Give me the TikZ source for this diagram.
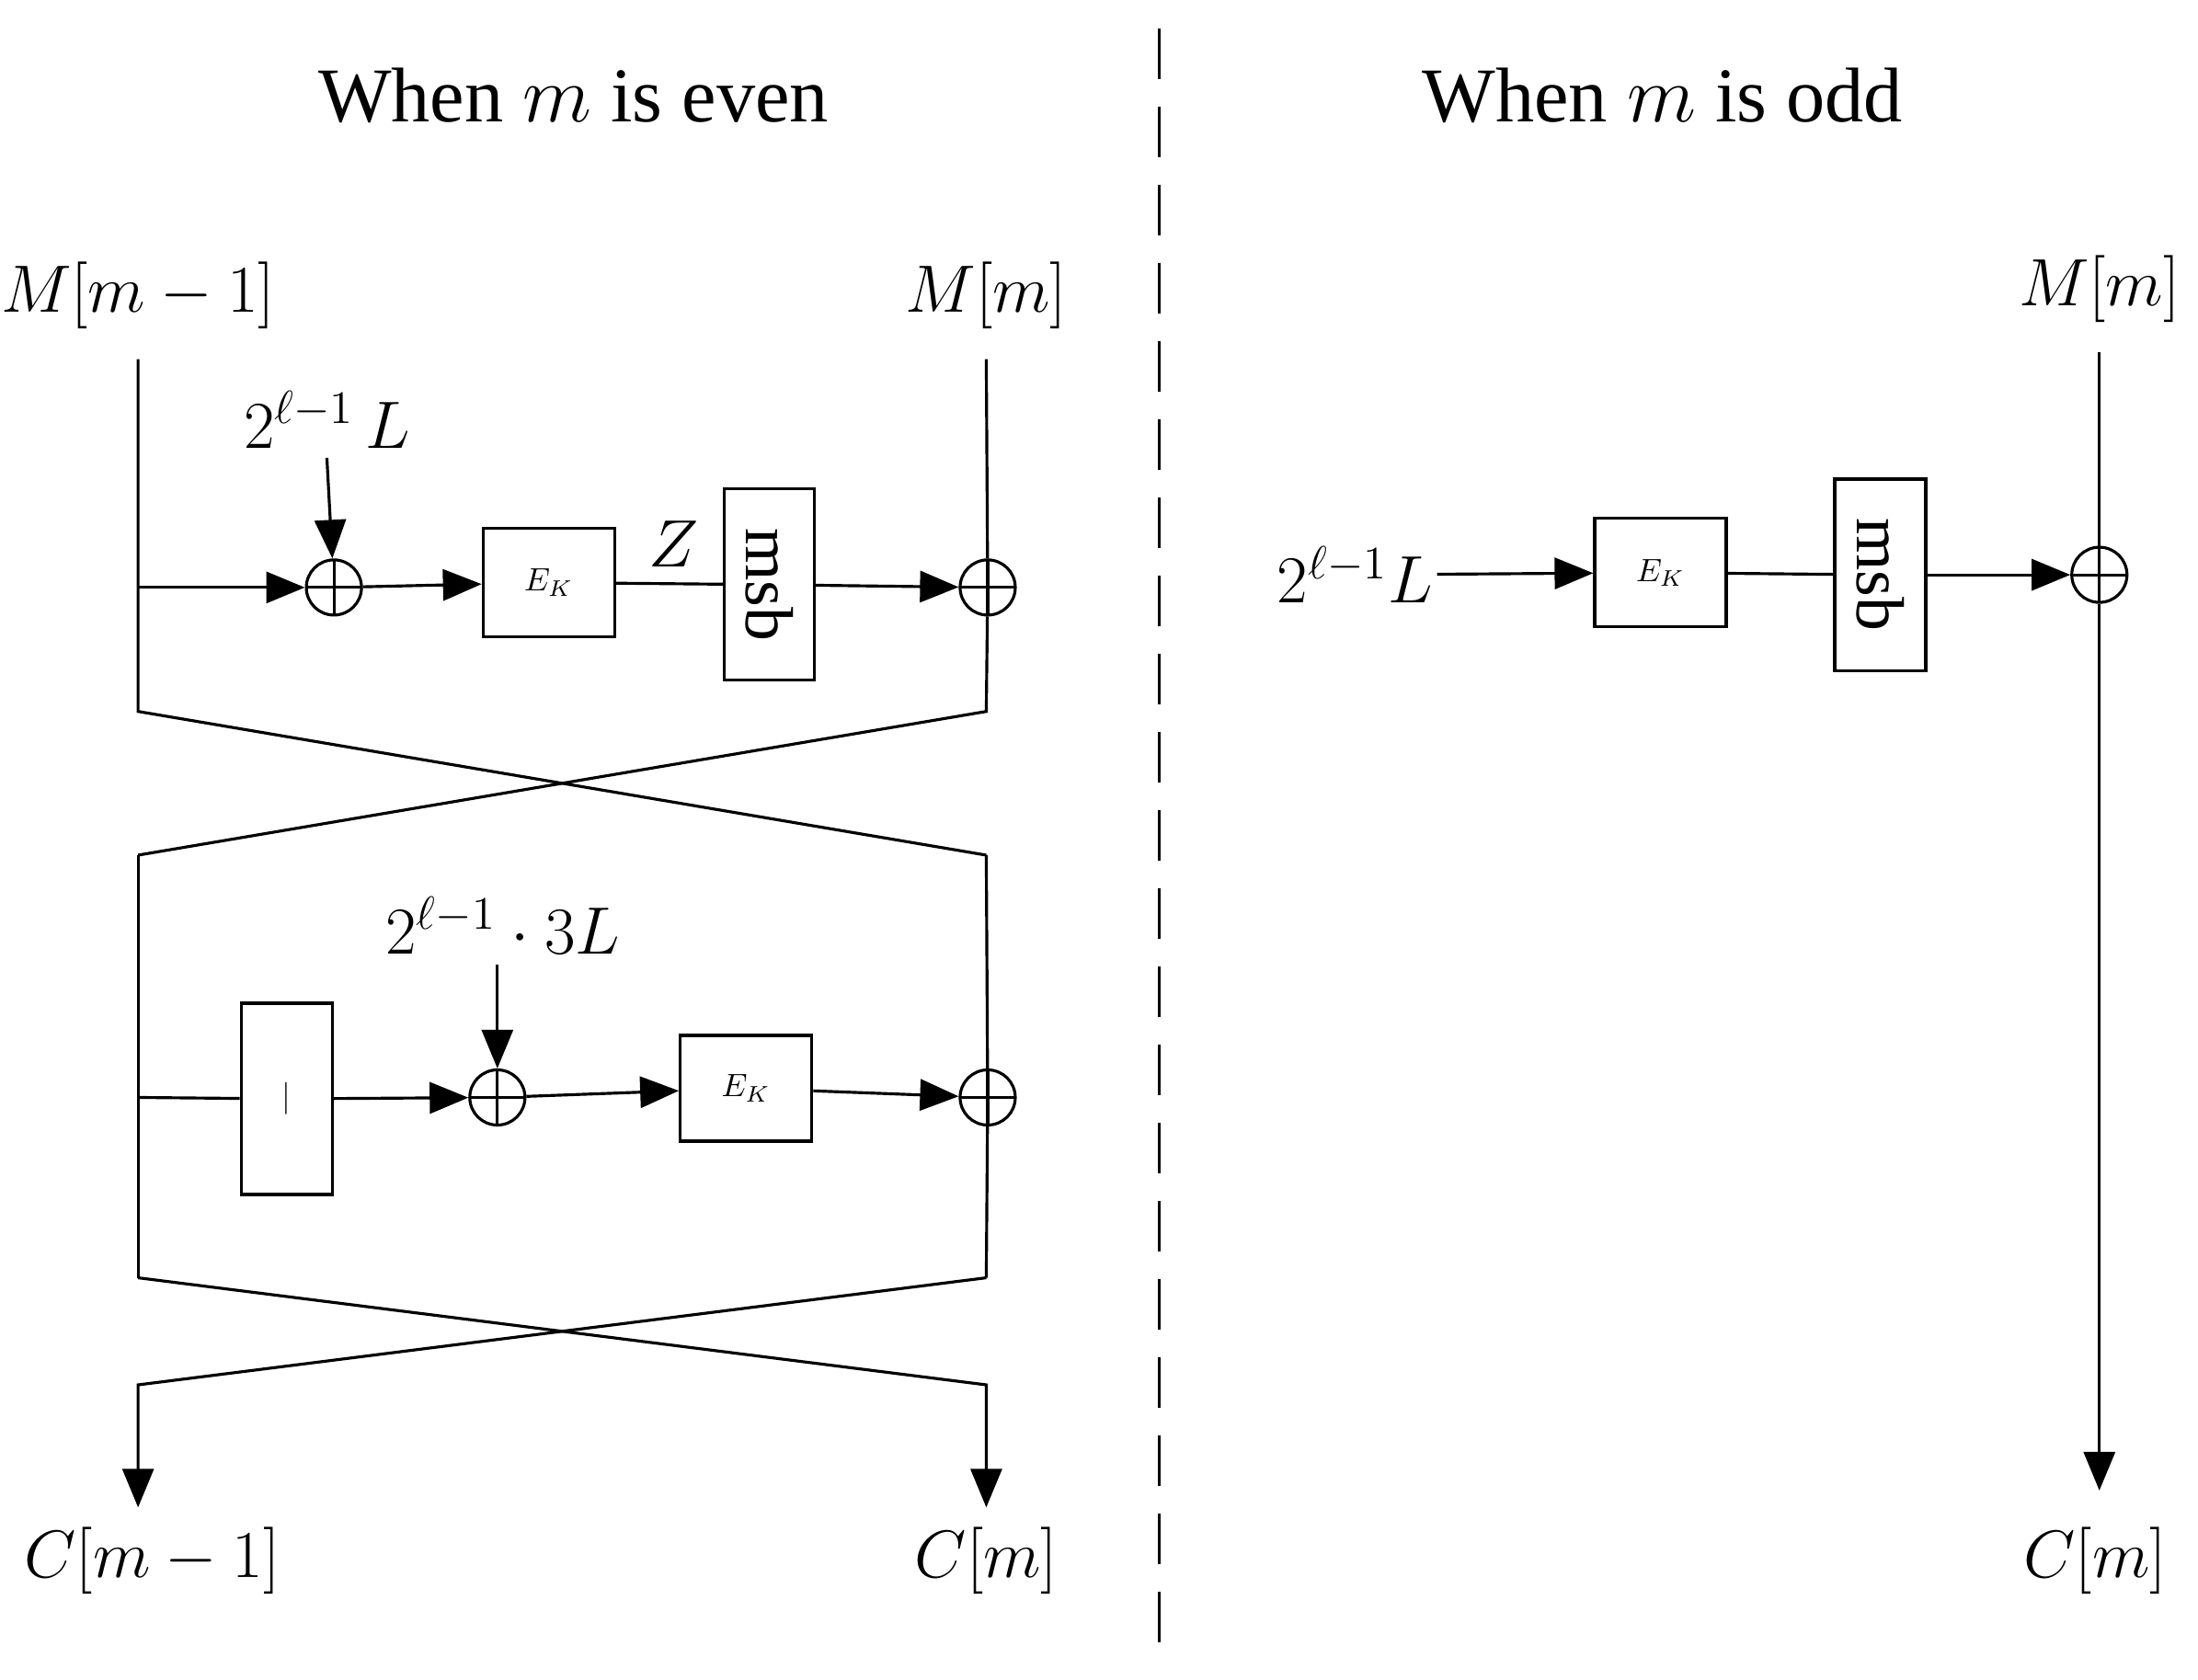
\documentclass[tikz,border=0pt]{standalone}
\usepackage{fontspec}
\setmainfont{Liberation Serif}
\usetikzlibrary{arrows.meta}
\begin{document}
\begin{tikzpicture}[x=0.01532cm,y=-0.01532cm,line width=0.9pt,
  arr/.style={-{Triangle[length=0.42cm,width=0.34cm]}},
  xo/.style={circle,draw,inner sep=0pt,minimum size=0.6cm,path picture={
    \draw (path picture bounding box.north)--(path picture bounding box.south)
          (path picture bounding box.west)--(path picture bounding box.east);}},
  bx/.style={draw,inner sep=0pt},
  lab/.style={font=\fontsize{21}{25}\selectfont,inner sep=1pt},
  ttl/.style={font=\fontsize{24}{28}\selectfont}]
\useasboundingbox (0,0) rectangle (1560,1192.5);
% titles and divider
\node[ttl] (t1) at (407,68) {When $m$ is even};
\node[ttl] (t2) at (1180,68) {When $m$ is odd};
\coordinate (d1) at (823,20); \coordinate (d2) at (823,1175);
\draw[dash pattern=on 0.55cm off 0.3cm] (d1)--(d2);
% left part
\node[lab] (Mm1) at (98,210) {$M[m-1]$};
\node[lab] (Mm) at (700,210) {$M[m]$};
\coordinate (la) at (98,255); \coordinate (ra) at (700,255);
\coordinate (l1) at (98,417);
\node[xo] (x1) at (237,417) {};
\node[lab] (L1) at (232,298) {$2^{\ell-1}\,L$};
\coordinate (L1a) at (232,325);
\node[bx,minimum width=1.43cm,minimum height=1.18cm] (E1) at (389.5,413.5) {$E_{K}$};
\node[lab] (Z) at (478,386) {$Z$};
\node[bx,minimum width=0.98cm,minimum height=2.08cm] (msb1) at (546,415) {\rotatebox{-90}{\fontsize{21}{25}\selectfont msb}};
\node[xo] (x2) at (701,417) {};
\coordinate (lb) at (98,505); \coordinate (rb) at (700,505);
\coordinate (lc) at (98,607); \coordinate (rc) at (700,607);
\draw (la)--(lb)--(rc);
\draw[arr] (l1)--(x1);
\draw[arr] (L1a)--(x1);
\draw[arr] (x1)--(E1);
\draw (E1)--(msb1);
\draw[arr] (msb1)--(x2);
\draw (ra)--(x2)--(rb)--(lc);
% lower round
\coordinate (l2) at (98,779);
\node[bx,minimum width=0.99cm,minimum height=2.08cm] (bar) at (203.5,780) {$|$};
\node[xo] (x4) at (353,779) {};
\node[lab] (L3) at (357,657) {$2^{\ell-1}\cdot 3L$};
\coordinate (L3a) at (353,685);
\node[bx,minimum width=1.43cm,minimum height=1.15cm] (E2) at (529.5,772.5) {$E_{K}$};
\node[xo] (x3) at (701,779) {};
\coordinate (ld) at (98,907); \coordinate (rd) at (700,907);
\coordinate (le) at (98,983); \coordinate (re) at (700,983);
\coordinate (lf) at (98,1070); \coordinate (rf) at (700,1070);
\draw (l2)--(bar);
\draw[arr] (bar)--(x4);
\draw[arr] (L3a)--(x4);
\draw[arr] (x4)--(E2);
\draw[arr] (E2)--(x3);
\draw (rc)--(x3)--(rd);
\draw (lc)--(ld);
\draw[arr] (ld)--(re)--(rf);
\draw[arr] (rd)--(le)--(lf);
\node[lab] (Cm1) at (108,1108) {$C[m-1]$};
\node[lab] (Cm) at (700,1108) {$C[m]$};
% right part
\node[lab] (RM) at (1490,205) {$M[m]$};
\coordinate (rt) at (1490,250); \coordinate (rbt) at (1490,1058);
\node[xo] (x5) at (1490,408) {};
\node[lab,anchor=east] (RL) at (1020,408) {$2^{\ell-1}L$};
\node[bx,minimum width=1.43cm,minimum height=1.18cm] (E3) at (1178.5,406.5) {$E_{K}$};
\node[bx,minimum width=0.99cm,minimum height=2.08cm] (msb2) at (1334.5,408) {\rotatebox{-90}{\fontsize{21}{25}\selectfont msb}};
\node[lab] (RC) at (1487,1108) {$C[m]$};
\draw[arr] (RL)--(E3);
\draw (E3)--(msb2);
\draw[arr] (msb2)--(x5);
\draw (rt)--(x5);
\draw[arr] (x5)--(rbt);
\end{tikzpicture}
\end{document}
